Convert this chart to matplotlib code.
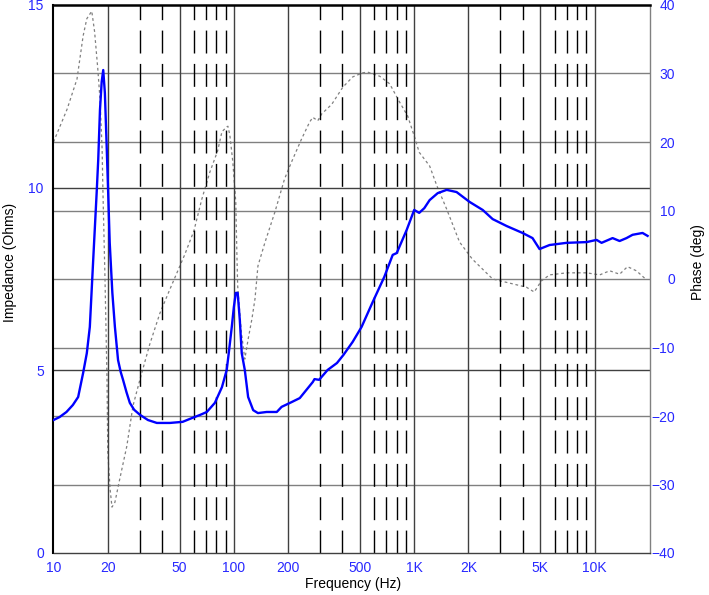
import numpy as np
import matplotlib
matplotlib.use('Agg')
import matplotlib.pyplot as plt

plt.rcParams['font.family'] = ['Liberation Sans', 'DejaVu Sans']
plt.rcParams['lines.scale_dashes'] = False

# Impedance curve (Hz, Ohms)
imp_freq = np.array([
    10, 10.8, 11.8, 12.8, 13.7, 14.6, 15.3, 15.9, 16.6, 17.35, 17.7, 18.1, 18.5, 18.87,
    19.27, 19.69, 20.1, 20.5, 21.2, 21.9, 22.8, 23.6, 24.3, 25.4, 26.5, 28.0, 30.2,
    33.4, 37.4, 44.2, 52, 59, 65, 70.8, 78.5, 85.9, 91.3, 93.7, 97.4, 100, 102.5, 105,
    107.9, 110.6, 115, 120, 128, 136, 152, 173, 184, 209, 232, 274, 280, 297, 331, 373,
    405, 456, 511, 585, 683, 760, 800, 908, 1000, 1066, 1138, 1218, 1350, 1514, 1718,
    2028, 2398, 2723, 3255, 3990, 4530, 4955, 5630, 6998, 9030, 10260, 10940, 12590,
    13770, 15040, 16250, 18460, 19680])
imp_ohms = np.array([
    3.64, 3.72, 3.86, 4.05, 4.27, 4.93, 5.47, 6.19, 8.02, 9.86, 10.76, 12.13, 12.9, 13.22,
    12.59, 11.22, 9.86, 8.49, 7.12, 6.19, 5.28, 4.95, 4.74, 4.4, 4.11, 3.92, 3.78,
    3.64, 3.56, 3.56, 3.59, 3.70, 3.78, 3.86, 4.11, 4.54, 5.01, 5.47, 6.19, 6.73, 7.12,
    7.12, 6.38, 5.47, 5.01, 4.27, 3.91, 3.83, 3.86, 3.86, 4.0, 4.13, 4.24, 4.68, 4.76,
    4.74, 5.01, 5.2, 5.42, 5.78, 6.19, 6.84, 7.56, 8.16, 8.21, 8.84, 9.39, 9.31, 9.44,
    9.66, 9.85, 9.94, 9.88, 9.61, 9.39, 9.14, 8.95, 8.76, 8.62, 8.32, 8.43, 8.49, 8.51,
    8.57, 8.49, 8.62, 8.54, 8.62, 8.71, 8.76, 8.68])

# Phase curve (Hz, degrees)
phase_freq = np.array([
    10, 11.9, 13.5, 14.6, 15.3, 16.3, 16.9, 17.6, 18.1, 18.6, 18.8, 19.3, 19.8, 20.0,
    20.6, 21.1, 21.9, 23.3, 25.5, 27.6, 30.2, 34.2, 38.9, 44.2, 53.3, 60, 66.5, 73.6,
    81.3, 85.9, 91.3, 92.7, 95, 98.7, 102.5, 103.9, 105, 110, 115, 120, 126, 131, 136,
    149, 169, 191, 209, 237, 263, 274, 292, 307, 349, 402, 456, 518, 552, 644, 731,
    831, 920, 1000, 1066, 1218, 1336, 1514, 1784, 2101, 2723, 3505, 4191, 4631, 5063,
    5630, 6998, 9030, 10680, 12130, 13770, 15230, 17060, 19180])
phase_deg = np.array([
    20.0, 24.8, 29.2, 35.5, 38.0, 39.1, 36.1, 30.7, 26.3, 19.0, 12.7, 0.0, -14.6, -25.3,
    -30.7, -33.3, -32.6, -29.2, -24.4, -18.5, -14.6, -9.5, -5.0, -1.5, 3.5, 7.0, 11.7,
    15.6, 18.7, 21.5, 22.2, 22.3, 21.0, 17.1, 11.2, 3.9, -1.0, -7.7, -11.7, -8.8, -5.8,
    -2.9, 1.9, 5.4, 9.8, 14.6, 17.1, 20.4, 22.9, 23.6, 23.1, 24.1, 25.5, 28.0, 29.5,
    30.1, 30.2, 29.6, 28.5, 25.8, 23.8, 20.9, 18.5, 16.5, 13.6, 10.2, 5.4, 2.9, 0.0,
    -0.7, -1.2, -1.9, -0.3, 0.6, 0.9, 0.9, 0.6, 1.2, 0.7, 1.8, 1.2, 0.0])

# Axis ticks
x_ticks = [10, 20, 50, 100, 200, 500, 1000, 2000, 5000, 10000]
x_tick_labels = ['10', '20', '50', '100', '200', '500', '1K', '2K', '5K', '10K']
x_dashed = [30, 40, 60, 70, 80, 90, 300, 400, 600, 700, 800, 900,
            3000, 4000, 6000, 7000, 8000, 9000]
imp_ticks = [0, 5, 10, 15]
phase_ticks = [-40, -30, -20, -10, 0, 10, 20, 30, 40]

tick_blue = '#2828ff'

fig = plt.figure(figsize=(7.09, 5.95), dpi=100)
ax = fig.add_axes([53.5 / 709, 1 - 553 / 595, 596.5 / 709, 548 / 595])
ax2 = ax.twinx()

# phase axis sits under the impedance axis
ax.set_zorder(ax2.get_zorder() + 1)
ax.patch.set_visible(False)

ax.set_xscale('log')
ax.set_xlim(10, 20300)
ax.set_ylim(0, 15)
ax2.set_ylim(-40, 40)

# grid lines
for p in phase_ticks[1:-1]:
    ax2.axhline(p, color='#808080', lw=1.0, zorder=1)
for z in [5, 10]:
    ax.axhline(z, color='#404040', lw=1.0, zorder=1)
for f in x_ticks[1:]:
    ax.axvline(f, color='#404040', lw=1.0, zorder=1)
for f in x_dashed:
    ax.axvline(f, color='black', lw=1.0, linestyle=(0, (16.5, 7.5)), zorder=1)

# curves
ax2.plot(phase_freq, phase_deg, color='#808080', lw=0.9,
         linestyle=(0, (2, 2)), zorder=2)
ax.plot(imp_freq, imp_ohms, color='#0000ff', lw=1.7, zorder=3)

# ticks
ax.set_xticks(x_ticks)
ax.set_xticklabels(x_tick_labels)
ax.xaxis.set_minor_locator(matplotlib.ticker.NullLocator())
ax.set_yticks(imp_ticks)
ax2.set_yticks(phase_ticks)
ax.tick_params(axis='both', length=0, labelsize=10, labelcolor=tick_blue)
ax.tick_params(axis='x', pad=6)
ax.tick_params(axis='y', pad=7)
ax2.tick_params(axis='y', length=0, labelsize=10, labelcolor=tick_blue, pad=18)
for lab in ax2.get_yticklabels():
    lab.set_horizontalalignment('right')

# frame
ax.spines['left'].set_color('black')
ax.spines['left'].set_linewidth(1.5)
ax.spines['top'].set_color('black')
ax.spines['top'].set_linewidth(1.8)
ax.spines['bottom'].set_color('#404040')
ax.spines['bottom'].set_linewidth(1.0)
ax.spines['right'].set_color('#808080')
ax.spines['right'].set_linewidth(1.0)
for s in ax2.spines.values():
    s.set_visible(False)

# axis titles
fig.text(353 / 709, 1 - 584 / 595, 'Frequency (Hz)', ha='center', va='center', fontsize=10)
fig.text(10 / 709, 1 - 262 / 595, 'Impedance (Ohms)', rotation=90,
         ha='center', va='center', fontsize=10)
fig.text(698 / 709, 1 - 262 / 595, 'Phase (deg)', rotation=90,
         ha='center', va='center', fontsize=10)

fig.savefig('out.png', dpi=100, facecolor='white')
